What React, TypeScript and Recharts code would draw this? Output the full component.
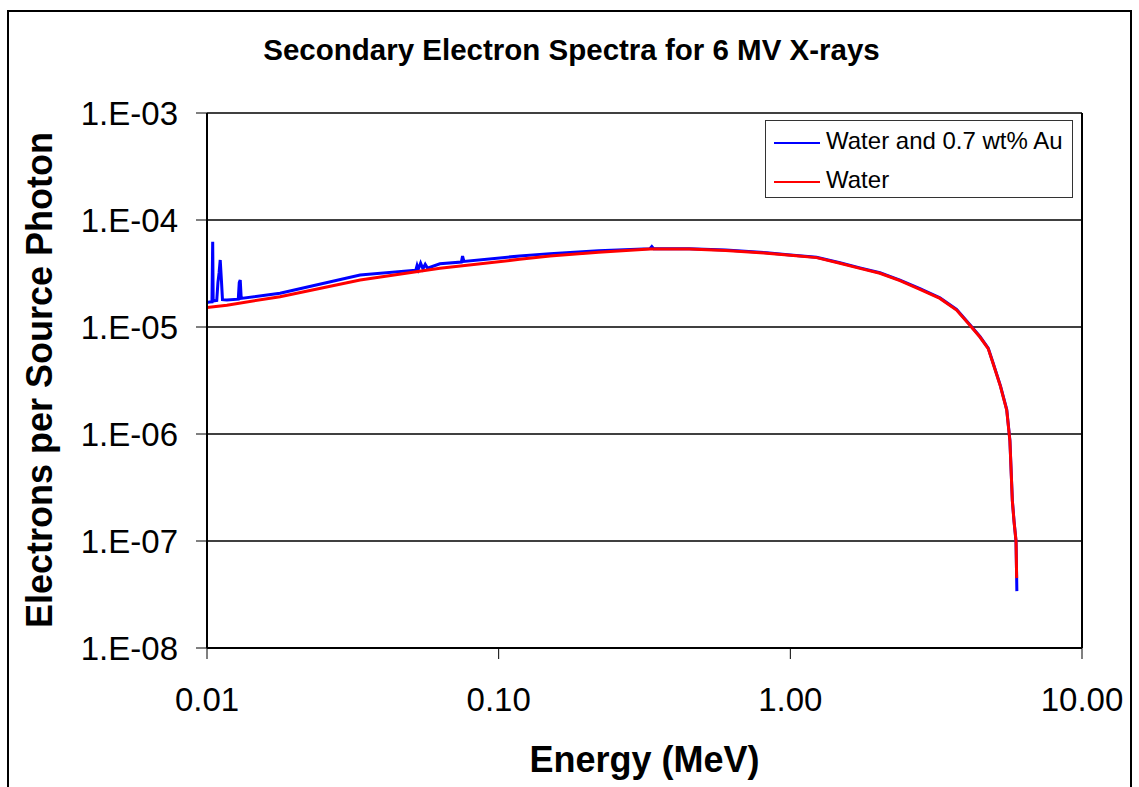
import { LineChart, Line, XAxis, YAxis, CartesianGrid, ReferenceLine } from 'recharts';

// Energy (MeV) and electrons per source photon
const auEnergy = [
  0.01, 0.0102, 0.0104, 0.01046, 0.0105, 0.0108, 0.0109, 0.011, 0.0111, 0.0112, 0.0113,
  0.0117, 0.0128, 0.0129, 0.013, 0.0131, 0.0178, 0.0335, 0.052, 0.0525, 0.053, 0.054,
  0.055, 0.056, 0.057, 0.0629, 0.0745, 0.0752, 0.076, 0.118, 0.15, 0.22, 0.33, 0.335, 0.34,
  0.45, 0.6, 0.83, 1.0, 1.23, 1.479, 1.732, 2.028, 2.376, 2.782, 3.258, 3.715, 4.128, 4.467,
  4.769, 4.95, 5.25, 5.52, 5.66, 5.77, 5.85, 5.94, 5.97, 5.98,
];
const auValues = [
  1.69e-5, 1.71e-5, 1.72e-5, 6.27e-5, 1.75e-5, 1.77e-5, 2.6e-5, 3.2e-5, 4.23e-5, 2.8e-5, 1.8e-5,
  1.79e-5, 1.82e-5, 2.6e-5, 2.75e-5, 1.85e-5, 2.07e-5, 3.06e-5, 3.4e-5, 3.75e-5, 3.45e-5, 3.96e-5,
  3.5e-5, 3.85e-5, 3.55e-5, 3.9e-5, 4.05e-5, 4.6e-5, 4.1e-5, 4.61e-5, 4.85e-5, 5.15e-5, 5.4e-5, 5.65e-5, 5.4e-5,
  5.38e-5, 5.24e-5, 4.94e-5, 4.72e-5, 4.49e-5, 3.98e-5, 3.57e-5, 3.21e-5, 2.74e-5, 2.28e-5, 1.87e-5, 1.46e-5, 1.05e-5, 8.15e-6,
  6.35e-6, 4.65e-6, 2.83e-6, 1.69e-6, 8.7e-7, 2.4e-7, 1.52e-7, 1.0e-7, 4.5e-8, 3.4e-8,
];

const waterEnergy = [
  0.01, 0.0117, 0.0178, 0.0335, 0.0629, 0.118, 0.15, 0.22, 0.33, 0.45, 0.6, 0.83, 1.0, 1.23,
  1.479, 1.732, 2.028, 2.376, 2.782, 3.258, 3.715, 4.128, 4.467, 4.769, 4.95, 5.25, 5.52, 5.66,
  5.77, 5.85, 5.94, 5.97,
];
const waterValues = [
  1.52e-5, 1.6e-5, 1.92e-5, 2.75e-5, 3.54e-5, 4.29e-5, 4.6e-5, 5.0e-5, 5.36e-5, 5.35e-5, 5.2e-5, 4.9e-5, 4.68e-5, 4.45e-5,
  3.94e-5, 3.53e-5, 3.18e-5, 2.71e-5, 2.25e-5, 1.85e-5, 1.44e-5, 1.04e-5, 8.06e-6, 6.28e-6, 4.6e-6, 2.8e-6, 1.67e-6, 8.6e-7,
  2.37e-7, 1.5e-7, 1.0e-7, 4.5e-8,
];

const xTicks = [0.01, 0.1, 1, 10];
const yTicks = [1e-8, 1e-7, 1e-6, 1e-5, 1e-4, 1e-3];

const auData = auEnergy.map((e, i) => ({ e, v: auValues[i] }));
const waterData = waterEnergy.map((e, i) => ({ e, v: waterValues[i] }));

const FONT = '"Liberation Sans", Arial, sans-serif';

const fmtY = (v: number) => {
  const exp = Math.round(Math.log10(v));
  return `1.E-${String(-exp).padStart(2, '0')}`;
};

export default function App() {
  return (
    <div style={{ position: 'relative', width: 1139, height: 787, fontFamily: FONT, overflow: 'hidden' }}>
      <style>{'body{margin:0;overflow:hidden;background:#fff}'}</style>
      <div
        style={{
          position: 'absolute', left: 7, top: 10, width: 1125, height: 800,
          border: '2px solid #000', boxSizing: 'border-box',
        }}
      />
      <div
        style={{
          position: 'absolute', left: 0, width: 1139, top: 33, textAlign: 'center',
          fontSize: 29.5, fontWeight: 'bold', paddingLeft: 4, boxSizing: 'border-box',
        }}
      >
        Secondary Electron Spectra for 6 MV X-rays
      </div>
      <div style={{ position: 'absolute', left: 0, top: 0 }}>
        <LineChart width={1139} height={787} margin={{ top: 113, right: 57, left: 7, bottom: 0 }}>
          <CartesianGrid horizontal vertical={false} stroke="#000" strokeWidth={1.5} />
          <XAxis
            dataKey="e"
            type="number"
            scale="log"
            domain={[0.01, 10]}
            ticks={xTicks}
            allowDataOverflow
            height={139}
            tickSize={11}
            tickMargin={29}
            tickFormatter={(v: number) => v.toFixed(2)}
            axisLine={{ stroke: '#000', strokeWidth: 2 }}
            tickLine={{ stroke: '#000' }}
            tick={{ fontSize: 33, fill: '#000', fontFamily: FONT }}
          />
          <YAxis
            dataKey="v"
            type="number"
            scale="log"
            domain={[1e-8, 1e-3]}
            ticks={yTicks}
            allowDataOverflow
            width={200}
            tickSize={11}
            tickMargin={18}
            tickFormatter={fmtY}
            axisLine={{ stroke: '#000', strokeWidth: 2 }}
            tickLine={{ stroke: '#000' }}
            tick={{ fontSize: 33, fill: '#000', fontFamily: FONT }}
          />
          <ReferenceLine x={10} stroke="#000" strokeWidth={2} />
          <Line
            data={auData}
            dataKey="v"
            type="linear"
            stroke="#0000ff"
            strokeWidth={3}
            dot={false}
            isAnimationActive={false}
          />
          <Line
            data={waterData}
            dataKey="v"
            type="linear"
            stroke="#ff0000"
            strokeWidth={3}
            dot={false}
            isAnimationActive={false}
          />
        </LineChart>
      </div>
      <div
        style={{
          position: 'absolute', left: 765, top: 120, width: 308, height: 78,
          border: '1px solid #333', background: '#fff', boxSizing: 'border-box', fontSize: 24,
        }}
      >
        <div style={{ position: 'absolute', left: 8, top: 21, width: 46, height: 2, background: '#0000ff' }} />
        <div style={{ position: 'absolute', left: 60, top: 6, lineHeight: '28px' }}>Water and 0.7 wt% Au</div>
        <div style={{ position: 'absolute', left: 8, top: 60, width: 46, height: 2, background: '#ff0000' }} />
        <div style={{ position: 'absolute', left: 60, top: 45, lineHeight: '28px' }}>Water</div>
      </div>
      <div
        style={{
          position: 'absolute', left: 207, width: 875, top: 740, textAlign: 'center',
          fontSize: 36, fontWeight: 'bold', lineHeight: '40px',
        }}
      >
        Energy (MeV)
      </div>
      <div
        style={{
          position: 'absolute', left: 40, top: 380, width: 700, height: 40, marginLeft: -350, marginTop: -20,
          transform: 'rotate(-90deg)', textAlign: 'center', fontSize: 36, fontWeight: 'bold', lineHeight: '40px',
          whiteSpace: 'nowrap',
        }}
      >
        Electrons per Source Photon
      </div>
    </div>
  );
}
